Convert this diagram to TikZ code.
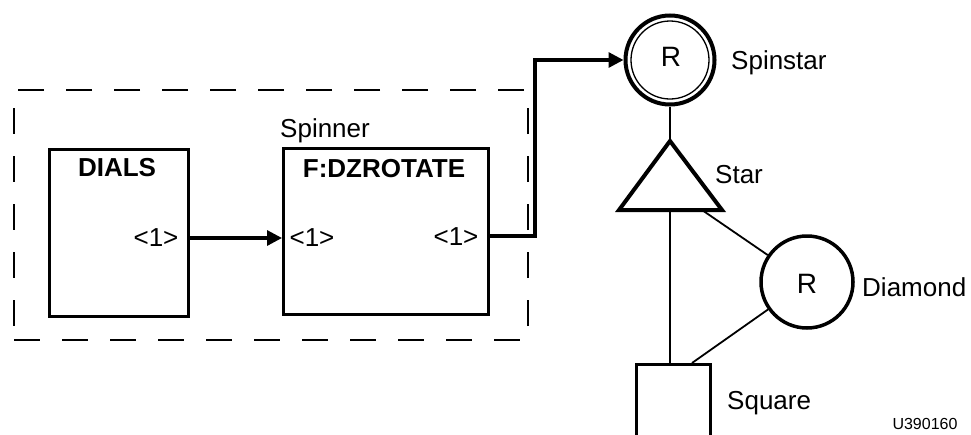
\documentclass[tikz,border=0pt]{standalone}
\usepackage{fontspec}
\setmainfont{Liberation Sans}
\usetikzlibrary{arrows.meta}
\begin{document}
\begin{tikzpicture}[x=1pt,y=-1pt,
  boxst/.style={draw, line width=3.2pt, rectangle, inner sep=0pt, anchor=north west},
  lbl/.style={font=\fontsize{26}{28}\selectfont, inner sep=0pt},
  rlbl/.style={font=\fontsize{28}{30}\selectfont, inner sep=0pt},
  blbl/.style={font=\fontsize{26}{28}\selectfont\bfseries, inner sep=0pt},
  thinln/.style={line width=1.8pt},
  arr/.style={line width=3.2pt, -{Triangle[length=15pt,width=15pt]}},
  ring/.style={draw, circle, inner sep=0pt}]
\useasboundingbox (0,0) rectangle (971,434);
\clip (0,0) rectangle (971,434);
% dashed group frame
\node[draw, line width=2pt, dash pattern=on 26pt off 22pt, rectangle, inner sep=0pt,
  anchor=north west, minimum width=514pt, minimum height=250pt] (grp) at (13,89) {};
% DIALS box
\node[boxst, minimum width=139pt, minimum height=167pt] (dials) at (48,148) {};
\node[blbl] (dialsT) at (117,168) {DIALS};
\node[lbl] (dialsO) at (156,238) {<1>};
% F:DZROTATE box
\node[boxst, minimum width=205pt, minimum height=166pt] (fz) at (282,147) {};
\node[lbl, anchor=base west] (spinner) at (280,137) {Spinner};
\node[blbl] (fzT) at (384,169) {F:DZROTATE};
\node[lbl] (fzI) at (312,238) {<1>};
\node[lbl] (fzO) at (456,237) {<1>};
% arrows
\draw[arr] (dials.east |- dialsO) -- (fz.west |- dialsO);
% Spinstar
\node[ring, line width=4pt, minimum size=89pt] (spin) at (670,60) {};
\draw[line width=1.3pt] (spin.center) circle[radius=39pt];
\node[rlbl] (spinR) at (671,57) {R};
\node[lbl, anchor=west] (spinL) at (731,63) {Spinstar};
\coordinate (bend1) at (535,236);
\coordinate (bend2) at (535,60);
\draw[arr, line join=miter] (fz.east |- bend1) -- (bend1) -- (bend2) -- (spin.west);
% Star triangle
\coordinate (tA) at (670,141);
\coordinate (tL) at (619,210);
\coordinate (tR) at (722,210);
\draw[line width=4pt, line join=miter] (tA) -- (tL) -- (tR) -- cycle;
\node[lbl, anchor=west] (starL) at (715,175) {Star};
\draw[thinln] (spin.south) -- (tA);
% Diamond
\node[ring, line width=3.5pt, minimum size=92pt] (dia) at (807,282) {};
\node[rlbl] (diaR) at (807,284) {R};
\node[lbl, anchor=west] (diaL) at (862,287) {Diamond};
% Square
\node[boxst, minimum width=74pt, minimum height=80pt] (sq) at (635,363) {};
\node[lbl, anchor=west] (sqL) at (727,403) {Square};
% connectors
\coordinate (tB1) at (670,210);
\coordinate (tB2) at (702,210);
\coordinate (sqT) at (692,363);
\draw[thinln] (tB1) -- (tB1 |- sq.north);
\draw[thinln] (tB2) -- (dia);
\draw[thinln] (dia) -- (sqT);
\node[font=\fontsize{16}{18}\selectfont, inner sep=0pt] (code) at (925,424) {U390160};
\end{tikzpicture}
\end{document}
